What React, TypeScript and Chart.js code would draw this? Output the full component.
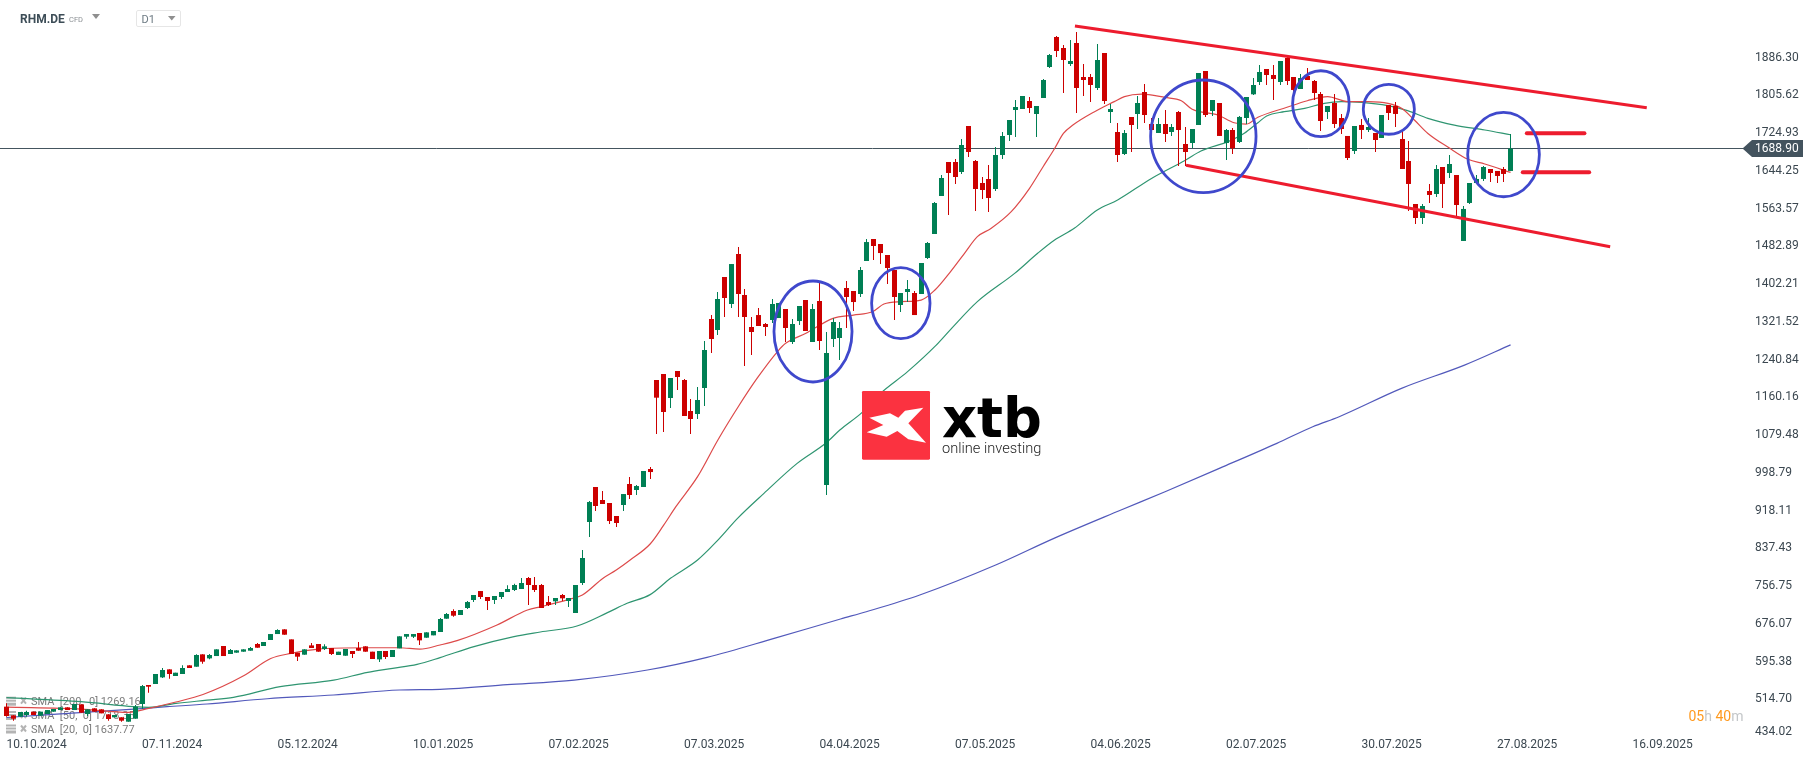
import { useEffect, useRef } from "react";
import { Chart, registerables } from "chart.js";

Chart.register(...registerables);

const opens = [
  496.1,477.5,474.7,478.3,485.4,476.8,480.4,485.4,488.9,494.6,
  488.9,501,480.4,492.5,490.4,479.7,473.3,473.3,464,470.4,
  501.8,542.4,544.5,558.7,575.8,561.6,565.9,584.4,581.5,607.9,
  599.3,604.3,625.7,608.6,611.5,613.6,615.7,630,625.7,638.5,
  651.3,661.3,639.9,611.5,607.2,627.1,630,619.3,621.4,606.5,
  605,615,621.4,625,613.6,597.2,615,602.2,620.7,645.6,
  645.6,653.5,643.5,648.5,655.6,684.1,700.5,692,707,724,
  743.2,730.4,724,730.4,741.1,745.4,747.5,771,756.1,756.1,
  719.7,721.2,734.7,721.9,696.2,760.4,890.7,965.5,937.7,931.3,
  903.5,927,971.9,959.1,965.5,1004,1194.2,1207,1155.7,1213.4,
  1194.2,1127.9,1121.5,1177.1,1324.5,1301,1414.3,1356.6,1463.4,1375.8,
  1307.4,1333,1313.8,1322.4,1326.6,1345.9,1275.4,1320.2,1365.1,1275.4,
  1363,969.8,1281.8,1283.9,1390.8,1384.4,1377.9,1448.5,1495.5,1484.8,
  1461.3,1429.2,1354.4,1382.2,1380.1,1377.9,1454.9,1506.2,1587.4,1660,
  1660,1638.7,1737,1662.2,1615.2,1623.7,1602.4,1675,1717.8,1771.2,
  1773.3,1790.4,1762.6,1796.8,1863.1,1927.2,1903.7,1869.5,1914.4,1841.7,
  1841.7,1818.2,1893,1766.9,1724.2,1677.2,1756.2,1762.6,1809.6,1741.3,
  1722,1741.3,1724.2,1766.9,1698.5,1700.7,1739.1,1854.5,1769.1,1786.2,
  1700.7,1728.5,1702.8,1754.1,1804.7,1831,1858.8,1846,1831,1882.3,
  1841.7,1816.1,1843.9,1833.2,1805.4,1766.9,1786.2,1754.1,1715.7,1683.6,
  1739.2,1728.5,1722,1711.4,1781.9,1779.8,1709.2,1662.2,1570.3,1540.4,
  1598.1,1591.7,1649.4,1636.6,1632.3,1491.3,1572.5,1615.2,1623.8,1645.1,
  1640.9,1645.1,1640.9,
];

const closes = [
  476.1,470.4,484.7,484.7,478.3,485.4,488.9,491.1,494.6,488.9,
  501.8,483.2,490.4,485.4,481.8,469.7,478.3,466.1,480.4,496.1,
  540.2,538.8,565.9,574.4,565.9,568.7,578.7,578.7,606.5,592.2,
  606.5,618.6,604.3,617.2,616.4,618.6,621.4,622.1,634.3,651.3,
  659.9,649.9,608.6,602.9,618.6,621.4,613.6,625,608.6,613.6,
  619.3,608.6,615.7,613.6,598,615,602.2,617.2,646.4,651.3,
  651.3,637.8,654.9,657.8,683.4,694.1,690.5,702.7,719.7,734.7,
  730.4,721.9,732.6,741.1,747.5,756.1,760.4,756.1,745.4,706.9,
  713.3,728.3,727.6,728.3,756.1,813.8,933.4,924.9,929.2,892.8,
  888.6,950.5,948.4,967.6,999.7,997.5,1156.4,1125.8,1198.4,1200.6,
  1117.2,1110.8,1151.4,1258.3,1281.8,1367.3,1369.4,1442,1377.9,1328.8,
  1296.7,1309.6,1307.4,1356.6,1358.7,1305.3,1313.8,1352.3,1298.9,1345.9,
  1277.5,1251.9,1318.1,1305.3,1371.5,1360.8,1429.2,1489,1480.5,1465.5,
  1433.5,1371.5,1380.1,1388.6,1333,1444.2,1486.9,1572.4,1625.9,1636.5,
  1628,1696.4,1681.4,1602.4,1600.2,1583.1,1675,1715.6,1749.8,1777.6,
  1801.1,1775.5,1779.7,1835.3,1888.7,1897.3,1878,1875.9,1818.2,1835.3,
  1824.6,1878,1790.4,1773.3,1675,1722,1739.1,1786.1,1760.5,1728.4,
  1741.3,1719.9,1734.9,1728.4,1681.4,1730.6,1850.2,1760.5,1792.6,1715.7,
  1728.5,1689.3,1756.3,1799,1824.6,1852.4,1846,1837.5,1875.9,1833.2,
  1814,1839.6,1835.3,1807.5,1747.7,1779.8,1741.3,1730.6,1668.6,1737,
  1728.5,1734.9,1707.1,1760.5,1764.8,1762.7,1645.1,1613.1,1540.4,1566,
  1589.6,1645.1,1613.1,1655.8,1568.2,1559.7,1615.2,1623.8,1649.4,1636.6,
  1630.2,1634.5,1688.9,
];

const highs = [
  503.2,477.5,484.7,487.5,485.4,485.4,488.9,491.1,494.6,494.6,
  501.8,501,490.4,492.5,490.4,479.7,478.3,473.3,480.4,499.6,
  542.4,542.4,565.9,578.7,575.8,568.7,584.4,584.4,607.9,607.9,
  608.6,618.6,625.7,619.3,616.4,618.6,623.6,632.1,634.3,651.3,
  661.3,661.3,639.9,611.5,618.6,632.1,630,629.3,621.4,613.6,
  619.3,615,634.3,625,613.6,615,615,617.2,646.4,651.3,
  651.3,653.5,654.9,657.8,685.5,696.2,704.1,702.7,721.9,734.7,
  743.2,730.4,732.6,741.1,755.4,758.9,771,773.2,773.2,758.2,
  732.6,728.3,736.8,728.3,756.1,830.9,935.6,965.5,956.9,931.3,
  903.5,950.5,986.9,969.8,999.7,1008.2,1194.2,1207,1198.4,1213.4,
  1196.3,1153.6,1179.2,1277.5,1333,1382.2,1414.3,1442,1478.4,1388.6,
  1328.8,1348,1316,1367.3,1358.7,1345.9,1324.5,1352.3,1365.1,1356.6,
  1405.7,1296.7,1325.9,1318.1,1405.7,1384.4,1435.6,1495.5,1495.5,1484.8,
  1461.3,1429.2,1380.1,1407.9,1384.4,1444.2,1489,1574.6,1632.3,1660,
  1666.5,1709.2,1737,1664.3,1628,1653.6,1692.1,1724.2,1749.8,1792.5,
  1801.1,1799,1779.7,1837.4,1890.8,1929.3,1910.1,1920.8,1937.9,1869.5,
  1848.1,1912.2,1893,1784,1743.4,1728.4,1756.2,1801.1,1826.7,1754.1,
  1754.1,1771.2,1741.3,1769,1734.9,1730.6,1850.2,1854.5,1792.6,1786.2,
  1730.6,1732.8,1758.4,1799,1839.6,1867.4,1858.8,1867.4,1875.9,1888.7,
  1841.7,1848.1,1861,1835.3,1809.7,1779.8,1805.4,1762.7,1715.7,1737,
  1752,1754.1,1722,1760.5,1781.9,1788.3,1726.3,1705,1570.3,1570.3,
  1613.1,1653.7,1649.4,1675.1,1632.3,1566,1615.2,1632.3,1651.6,1645.1,
  1640.9,1649.4,1720,
];

const lows = [
  474.7,466.1,474.7,474.7,478.3,476.8,480.4,485.4,488.9,488.9,
  488.9,483.2,476.1,485.4,481.8,466.1,473.3,464,464,470.4,
  491.8,526,544.5,557.3,555.9,561.6,565.9,578.7,581.5,588,
  597.2,604.3,604.3,608.6,611.5,613.6,615.7,622.1,625.7,638.5,
  651.3,649.9,608.6,593.6,607.2,621.4,613.6,617.2,606.5,606.5,
  605,600,615.7,613.6,598,591.5,598,602.2,620.7,641.4,
  642.8,627.8,643.5,648.5,655.6,684.1,688.4,692,704.8,719.7,
  726.2,702.7,715.5,726.2,741.1,743.3,747.5,713.3,741.1,706.9,
  711.2,713.3,721.9,709,696.2,756.1,858.6,914.2,929.2,886.4,
  880,914.2,939.8,948.4,965.5,982.6,1078.8,1083,1134.3,1172.8,
  1117.2,1078.8,1110.8,1138.6,1251.9,1290.3,1328.8,1348,1328.8,1224.1,
  1247.6,1309.6,1288.2,1316,1326.6,1275.4,1271.1,1311.7,1298.9,1275.4,
  1258.3,948.4,1264.7,1236.9,1305.3,1341.6,1371.5,1448.5,1450.6,1442,
  1399.3,1322.4,1339.5,1360.8,1333,1377.9,1452.7,1506.2,1587.4,1546.8,
  1613,1634.4,1670.7,1555.4,1581,1553.2,1598.1,1666.5,1704.9,1713.5,
  1773.3,1764.8,1713.5,1796.8,1860.9,1884.4,1807.5,1865.2,1764.8,1801.1,
  1788.3,1813.9,1784,1743.4,1660,1675,1681.4,1730.6,1743.4,1728.4,
  1722,1702.8,1715.6,1651.5,1651.5,1690,1739.1,1756.2,1758.4,1715.7,
  1664.4,1677.2,1700.7,1741.3,1803.3,1824.6,1824.6,1792.6,1824.6,1824.6,
  1799.7,1816.1,1835.3,1792.6,1726.3,1752,1732.8,1719.9,1664.4,1677.2,
  1709.2,1724.2,1681.5,1711.4,1749.8,1734.9,1645.1,1555.4,1527.6,1527.6,
  1572.5,1585.3,1561.8,1625.9,1542.6,1491.3,1570.3,1615.2,1619.5,1617.4,
  1615.2,1617.4,1640.9,
];

// moving averages at the bends
const sma20X = [0,11,18,21,25,29,35,39,42,46,53,58,61,64,66.5,72.4,76.9,79,83,85,88,90,92,95,97,98.8,102,105,108,110.8,113.8,115,118,122,125,127.8,129.5,132,135,137,139.4,141.4,143.3,145.3,148.3,151,153,154.7,156,157.4,160.6,163.5,165,167.5,171,173.4,175,178.8,181.2,183,184.7,189,192,195,198,201,203.9,205.9,207.8,209.8,212.8,215.7,218.2,222];
const sma20Y = [495,491,484,492.5,506,522,562,599,610,619,622,622,619,627.9,637.2,670.7,702.7,710,725.4,734.7,770,788,809,843.7,884,923.5,987.6,1066,1137,1198,1255,1272.5,1294,1326,1333,1340,1356.6,1361.6,1365,1386,1427,1465,1500.5,1518,1554,1603.8,1650,1689,1721,1739,1767.6,1789,1799.7,1805,1798,1791,1772.6,1760.5,1744,1741,1755.6,1777,1791,1799.7,1789,1789,1785.5,1774.8,1749.8,1721,1691.4,1665.8,1655.8,1637.77];

const sma50X = [0,11,18.8,21,25,29.6,33.5,40.4,48.3,53.3,57,60.6,64,69,74.9,78.8,84.2,88.7,91.6,95,98,102,105,107.9,111.8,116.7,121,123,126.3,129,133,137,139.4,143.3,148.8,152.2,154.7,157.6,161,164,169,174,176.3,180.3,182.7,184.7,186,188.6,191.6,194.5,197,200,203.9,206.8,209.8,213.7,218.2,222];
const sma50Y = [515.3,506.7,496,494.6,503,510,516,538.8,553,569.4,578,586.5,600.9,624.4,645.7,655.7,668.5,697,717,735.5,770.3,809.5,852,898.5,952,1016,1060,1087.3,1125,1165.7,1212,1265.4,1303,1361.6,1422,1465,1493.4,1518.3,1557.5,1578.9,1625,1664,1683.6,1703.6,1721.4,1744,1758.4,1767.6,1774.8,1785.5,1789,1787.6,1780.5,1769.8,1753.4,1739,1728.5,1718.35];

const sma200X = [0,18.8,23.7,29.6,38.5,48.3,58,64,73.9,83.8,94.6,103.4,113.3,123.1,126.9,134.8,146,154.6,164.5,171,179.6,187.5,192.8,196.7,205.9,215.2,222];
const sma200Y = [473,491,496,501.8,513,521,531.7,533.2,543,553,574.5,601.6,642,683.5,699,734.7,798.8,855.8,916.4,955.5,1009,1058.8,1094.4,1115.8,1176.3,1226,1269.16];

// drawn channel and target levels
const channelUpperX = [157.7, 242.1];
const channelUpperY = [1950.7, 1776.1];
const channelLowerX = [174.1, 236.7];
const channelLowerY = [1653, 1479];
const levelTopX = [224.4, 232.9];
const levelTopY = [1721.4, 1721.4];
const levelBottomX = [223.8, 233.6];
const levelBottomY = [1638, 1638];

// hand-drawn circles around the retests
const circleX = [119.04, 132, 176.65, 194, 204.03, 220.96];
const circleY = [1297.8, 1358.3, 1715, 1784.6, 1772.7, 1676];
const circleRadiusX = [5.76, 4.31, 7.78, 4.17, 3.77, 5.29];
const circleRadiusY = [107.9, 75.9, 120.3, 70.5, 53.4, 90.2];

const lastPrice = 1688.9;

const priceTicks = [434.02,514.7,595.38,676.07,756.75,837.43,918.11,998.79,1079.48,1160.16,1240.84,1321.52,1402.21,1482.89,1563.57,1644.25,1724.93,1805.62,1886.3];
const dateTicks = [0,20,40,60,80,100,120,140,160,180,200,220,240];
const dateLabels = ["10.10.2024","07.11.2024","05.12.2024","10.01.2025","07.02.2025","07.03.2025","04.04.2025","07.05.2025","04.06.2025","02.07.2025","30.07.2025","27.08.2025","16.09.2025"];

const legendRows = ["SMA  [200,  0] 1269.16", "SMA  [50,  0] 1718.35", "SMA  [20,  0] 1637.77"];

const UP = "#007f54";
const DOWN = "#cc0000";
const FONT = "Roboto";
const X_MIN = -0.959;
const X_MAX = 256.6;

const zip = (xs: number[], ys: number[]) => xs.map((x, i) => ({ x, y: ys[i] }));

// keep candle columns on whole pixels, the reference is crisp
const snapBars = {
  id: "snapBars",
  beforeDatasetDraw(chart: any, args: any) {
    const meta = args.meta;
    if (meta.type !== "bar") return;
    meta.data.forEach((el: any) => {
      el.x = Math.floor(el.x) + 0.5;
    });
  },
};

const legendLayer = {
  id: "legendLayer",
  beforeDatasetsDraw(chart: any) {
    const ctx = chart.ctx;
    ctx.save();
    ctx.font = `11px ${FONT}`;
    ctx.textBaseline = "middle";
    ctx.textAlign = "left";
    [701.7, 716, 729.5].forEach((y, i) => {
      ctx.fillStyle = "#b4b4b4";
      ctx.fillRect(6, y - 5, 10, 2);
      ctx.fillRect(6, y - 2, 10, 2);
      ctx.fillRect(6, y + 1, 10, 3);
      ctx.strokeStyle = "#b4b4b4";
      ctx.lineWidth = 2;
      ctx.beginPath();
      ctx.moveTo(21, y - 4);
      ctx.lineTo(26, y + 2);
      ctx.moveTo(26, y - 4);
      ctx.lineTo(21, y + 2);
      ctx.stroke();
      ctx.fillStyle = "#7c7c7c";
      ctx.fillText(legendRows[i], 31, y + 0.5);
    });
    ctx.restore();
  },
};

const overlays = {
  id: "overlays",
  afterDatasetsDraw(chart: any) {
    const { ctx, scales } = chart;
    const { x, y } = scales;
    ctx.save();
    ctx.strokeStyle = "#3f48cc";
    ctx.lineWidth = 2.8;
    circleX.forEach((cx, i) => {
      const px = x.getPixelForValue(cx);
      const py = y.getPixelForValue(circleY[i]);
      const rx = x.getPixelForValue(cx + circleRadiusX[i]) - px;
      const ry = py - y.getPixelForValue(circleY[i] + circleRadiusY[i]);
      ctx.beginPath();
      ctx.ellipse(px, py, rx, ry, 0, 0, Math.PI * 2);
      ctx.stroke();
    });
    ctx.restore();
  },
  afterDraw(chart: any) {
    const { ctx, scales } = chart;
    const py = scales.y.getPixelForValue(lastPrice);
    ctx.save();
    ctx.fillStyle = "#43535e";
    ctx.beginPath();
    ctx.moveTo(1742.5, py);
    ctx.lineTo(1752, py - 8.5);
    ctx.lineTo(1803, py - 8.5);
    ctx.lineTo(1803, py + 8.5);
    ctx.lineTo(1752, py + 8.5);
    ctx.closePath();
    ctx.fill();
    ctx.font = `12px ${FONT}`;
    ctx.textBaseline = "middle";
    ctx.textAlign = "left";
    ctx.fillStyle = "#ffffff";
    ctx.fillText(lastPrice.toFixed(2), 1755, py + 0.5);
    // the lowest price label sits a little above its tick
    ctx.fillStyle = "#3b4750";
    ctx.fillText(priceTicks[0].toFixed(2), 1755, 731.7);
    ctx.restore();
  },
};

function Logo() {
  return (
    <svg
      viewBox="0 0 690 330"
      style={{ position: "absolute", left: 840, top: 370, width: 230, height: 110 }}
    >
      <rect x={66} y={63} width={204} height={206} rx={4} fill="#fb3240" />
      <polygon
        fill="#ffffff"
        points="88,143 150,130 175,143 195,122 250,113 205,160 258,218 205,208 172,183 140,200 80,187 130,165"
      />
      <text x={306} y={200} fontFamily="DejaVu Sans" fontWeight={700} fontSize={165} textLength={300} lengthAdjust="spacingAndGlyphs" fill="#000000">xtb</text>
      <text x={306} y={250} fontFamily="Roboto" fontWeight={300} fontSize={42} textLength={298} lengthAdjust="spacingAndGlyphs" fill="#222222">online investing</text>
    </svg>
  );
}

function Header() {
  const abs = { position: "absolute" as const, fontFamily: FONT, lineHeight: 1 };
  return (
    <>
      <div style={{ ...abs, left: 20, top: 12.5, fontSize: 12, fontWeight: 700, color: "#3d4d57" }}>RHM.DE</div>
      <div style={{ ...abs, left: 69, top: 15.5, fontSize: 7.5, color: "#8a8f93" }}>CFD</div>
      <svg style={{ position: "absolute", left: 92, top: 14, width: 8, height: 6 }}>
        <polygon points="0,0 8,0 4,5" fill="#8f8f8f" />
      </svg>
      <div style={{ position: "absolute", left: 136, top: 10, width: 43, height: 15, border: "1px solid #e6e6e6", borderRadius: 2 }} />
      <div style={{ ...abs, left: 141.5, top: 13.5, fontSize: 11, color: "#6d7a83" }}>D1</div>
      <svg style={{ position: "absolute", left: 168, top: 15.5, width: 8, height: 6 }}>
        <polygon points="0,0 7.5,0 3.75,4.5" fill="#8f8f8f" />
      </svg>
    </>
  );
}

function Countdown() {
  return (
    <div style={{ position: "absolute", left: 1688.5, top: 709, fontFamily: FONT, fontSize: 14, lineHeight: 1, color: "#c4c7c9", whiteSpace: "pre" }}>
      <span style={{ color: "#ff9a1f" }}>05</span>h <span style={{ color: "#ff9a1f" }}>40</span>m
    </div>
  );
}

export default function App() {
  const canvasRef = useRef<HTMLCanvasElement>(null);

  useEffect(() => {
    if (!canvasRef.current) return;
    const candleColors = closes.map((c, i) => (c >= opens[i] ? UP : DOWN));
    const yPerPx = 2.137;

    const chart = new Chart(canvasRef.current, {
      type: "bar",
      data: {
        datasets: [
          {
            type: "line", data: zip(levelTopX, levelTopY), borderColor: "#ed1c2e", borderWidth: 4,
            borderCapStyle: "round", pointRadius: 0, order: 0,
          },
          {
            type: "line", data: zip(levelBottomX, levelBottomY), borderColor: "#ed1c2e", borderWidth: 4,
            borderCapStyle: "round", pointRadius: 0, order: 0,
          },
          {
            type: "line", data: zip(channelUpperX, channelUpperY), borderColor: "#ed1c2e", borderWidth: 3,
            pointRadius: 0, order: 0,
          },
          {
            type: "line", data: zip(channelLowerX, channelLowerY), borderColor: "#ed1c2e", borderWidth: 3,
            pointRadius: 0, order: 0,
          },
          {
            data: opens.map((o, i) => ({ x: i, y: [o, closes[i]] })),
            backgroundColor: candleColors, barThickness: 5, grouped: false, inflateAmount: 0, borderWidth: 0, order: 2,
          },
          {
            data: lows.map((l, i) => ({ x: i, y: [l, highs[i]] })),
            backgroundColor: candleColors, barThickness: 1, grouped: false, inflateAmount: 0, borderWidth: 0, order: 3,
          },
          { type: "line", data: zip(sma20X, sma20Y), borderColor: "#dd4a4a", borderWidth: 1.2, pointRadius: 0, cubicInterpolationMode: "monotone", order: 4 },
          { type: "line", data: zip(sma50X, sma50Y), borderColor: "#2f9571", borderWidth: 1.2, pointRadius: 0, cubicInterpolationMode: "monotone", order: 4 },
          { type: "line", data: zip(sma200X, sma200Y), borderColor: "#5259bb", borderWidth: 1.2, pointRadius: 0, cubicInterpolationMode: "monotone", order: 4 },
          {
            type: "line", data: [{ x: X_MIN, y: lastPrice }, { x: X_MAX, y: lastPrice }],
            borderColor: "#44555f", borderWidth: 1, pointRadius: 0, order: 5,
          },
        ] as any,
      },
      options: {
        animation: false,
        responsive: false,
        devicePixelRatio: 1,
        layout: { padding: 0 },
        plugins: { legend: { display: false }, tooltip: { enabled: false } },
        scales: {
          x: {
            type: "linear",
            min: X_MIN,
            max: X_MAX,
            offset: false,
            bounds: "data",
            grid: { display: false, drawTicks: false },
            border: { display: false },
            afterFit: (s: any) => {
              s.height = 25;
              s.paddingLeft = s.paddingRight = s.paddingTop = s.paddingBottom = 0;
            },
            afterBuildTicks: (s: any) => { s.ticks = dateTicks.map((v) => ({ value: v })); },
            ticks: {
              autoSkip: false, maxRotation: 0, minRotation: 0, align: "start", padding: 2,
              color: "#3b4750", font: { family: FONT, size: 12 },
              callback: (v: any) => dateLabels[dateTicks.indexOf(Number(v))],
            },
          },
          y: {
            type: "linear",
            position: "right",
            min: lastPrice - 587.5 * yPerPx,
            max: lastPrice + 148.5 * yPerPx,
            bounds: "data",
            grid: { display: false, drawTicks: false },
            border: { display: false },
            afterFit: (s: any) => {
              s.width = 70;
              s.paddingLeft = s.paddingRight = s.paddingTop = s.paddingBottom = 0;
            },
            afterBuildTicks: (s: any) => { s.ticks = priceTicks.map((v) => ({ value: v })); },
            ticks: {
              autoSkip: false, padding: 10, labelOffset: 1.5,
              color: "#3b4750", font: { family: FONT, size: 12 },
              callback: (v: any) => (Number(v) === priceTicks[0] ? "" : Number(v).toFixed(2)),
            },
          },
        },
      } as any,
      plugins: [snapBars, legendLayer, overlays],
    });

    return () => chart.destroy();
  }, []);

  return (
    <div style={{ position: "absolute", left: 0, top: 0, width: 1815, height: 761, background: "#ffffff", overflow: "hidden" }}>
      <canvas ref={canvasRef} width={1815} height={761} style={{ display: "block" }} />
      <Logo />
      <Header />
      <Countdown />
    </div>
  );
}
